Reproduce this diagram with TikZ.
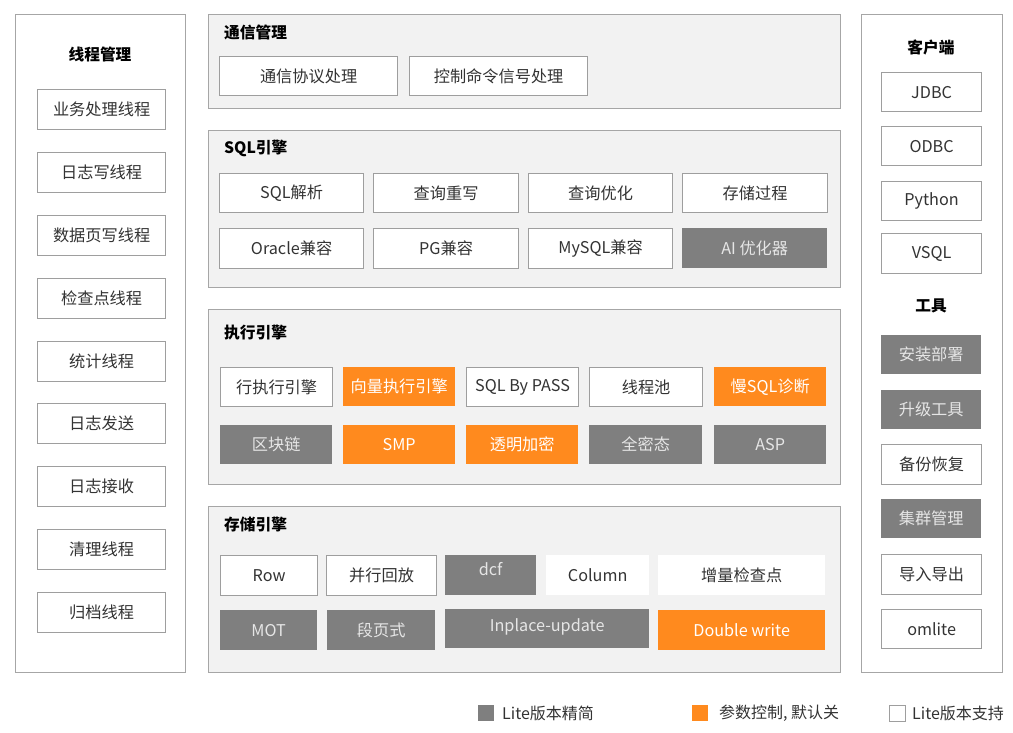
\documentclass[tikz,border=0pt]{standalone}
\usepackage{fontspec}
\setmainfont{Noto Sans CJK SC}
\definecolor{pfill}{HTML}{F2F2F2}
\definecolor{pdraw}{HTML}{A6A6A6}
\definecolor{bdraw}{HTML}{9E9E9E}
\definecolor{gfill}{HTML}{7F7F7F}
\definecolor{gtext}{HTML}{E6E6E6}
\definecolor{ofill}{HTML}{FF8A1E}
\definecolor{ttext}{HTML}{333333}
\tikzset{
  panel/.style={draw=pdraw, fill=pfill, line width=1.3pt, anchor=north west, inner sep=0pt},
  sidepanel/.style={draw=pdraw, fill=white, line width=1.3pt, anchor=north west, inner sep=0pt},
  bx/.style={anchor=north west, inner sep=0pt, font=\fontsize{16.2}{19}\selectfont, text=ttext},
  wbox/.style={bx, draw=bdraw, fill=white, line width=1.2pt},
  nbox/.style={bx, fill=white},
  gbox/.style={bx, fill=gfill, text=gtext},
  obox/.style={bx, fill=ofill, text=white},
  ttl/.style={font=\fontsize{15.7}{18}\selectfont\bfseries, text=black, inner sep=0pt},
  lg/.style={font=\fontsize{16}{19}\selectfont, text=ttext, inner sep=0pt, anchor=west},
}
\begin{document}
\begin{tikzpicture}[x=1pt,y=-1pt]
\useasboundingbox (0,0) rectangle (1013,733);
% left panel
\node[sidepanel, minimum width=170pt, minimum height=658pt] (left) at (15,14) {};
\node[ttl] (lt) at (100,54) {线程管理};
\node[wbox, minimum width=128pt, minimum height=40pt] (l1) at (37,89) {业务处理线程};
\node[wbox, minimum width=128pt, minimum height=40pt] (l2) at (37,152) {日志写线程};
\node[wbox, minimum width=128pt, minimum height=40pt] (l3) at (37,215) {数据页写线程};
\node[wbox, minimum width=128pt, minimum height=40pt] (l4) at (37,278) {检查点线程};
\node[wbox, minimum width=128pt, minimum height=40pt] (l5) at (37,341) {统计线程};
\node[wbox, minimum width=128pt, minimum height=40pt] (l6) at (37,403) {日志发送};
\node[wbox, minimum width=128pt, minimum height=40pt] (l7) at (37,466) {日志接收};
\node[wbox, minimum width=128pt, minimum height=40pt] (l8) at (37,529) {清理线程};
\node[wbox, minimum width=128pt, minimum height=40pt] (l9) at (37,592) {归档线程};
% 通信管理
\node[panel, minimum width=632pt, minimum height=94pt] (p1) at (208,14) {};
\node[ttl, anchor=west] (p1t) at (224,32) {通信管理};
\node[wbox, minimum width=178pt, minimum height=39pt] (c1) at (219,56) {通信协议处理};
\node[wbox, minimum width=178pt, minimum height=39pt] (c2) at (409,56) {控制命令信号处理};
% SQL引擎
\node[panel, minimum width=632pt, minimum height=157pt] (p2) at (208,130) {};
\node[ttl, anchor=west] (p2t) at (224,148) {SQL引擎};
\node[wbox, minimum width=144pt, minimum height=39pt] (s1) at (219,173) {SQL解析};
\node[wbox, minimum width=145pt, minimum height=39pt] (s2) at (373,173) {查询重写};
\node[wbox, minimum width=144pt, minimum height=39pt] (s3) at (528,173) {查询优化};
\node[wbox, minimum width=145pt, minimum height=39pt] (s4) at (682,173) {存储过程};
\node[wbox, minimum width=144pt, minimum height=40pt] (s5) at (219,228) {Oracle兼容};
\node[wbox, minimum width=145pt, minimum height=40pt] (s6) at (373,228) {PG兼容};
\node[wbox, minimum width=144pt, minimum height=40pt] (s7) at (528,228) {MySQL兼容};
\node[gbox, minimum width=145pt, minimum height=40pt] (s8) at (682,228) {AI 优化器};
% 执行引擎
\node[panel, minimum width=632pt, minimum height=175pt] (p3) at (208,309) {};
\node[ttl, anchor=west] (p3t) at (224,333) {执行引擎};
\node[wbox, minimum width=112pt, minimum height=39pt] (e1) at (220,367) {行执行引擎};
\node[obox, minimum width=112pt, minimum height=39pt] (e2) at (343,367) {向量执行引擎};
\node[wbox, minimum width=112pt, minimum height=39pt] (e3) at (466,367) {SQL By PASS};
\node[wbox, minimum width=113pt, minimum height=39pt] (e4) at (589,367) {线程池};
\node[obox, minimum width=112pt, minimum height=39pt] (e5) at (714,367) {慢SQL诊断};
\node[gbox, minimum width=112pt, minimum height=39pt] (e6) at (220,425) {区块链};
\node[obox, minimum width=112pt, minimum height=39pt] (e7) at (343,425) {SMP};
\node[obox, minimum width=112pt, minimum height=39pt] (e8) at (466,425) {透明加密};
\node[gbox, minimum width=113pt, minimum height=39pt] (e9) at (589,425) {全密态};
\node[gbox, minimum width=112pt, minimum height=39pt] (e10) at (714,425) {ASP};
% 存储引擎
\node[panel, minimum width=632pt, minimum height=166pt] (p4) at (208,506) {};
\node[ttl, anchor=west] (p4t) at (224,524) {存储引擎};
\node[wbox, minimum width=97pt, minimum height=40pt] (r1) at (220,555) {Row};
\node[wbox, minimum width=110pt, minimum height=40pt] (r2) at (326,555) {并行回放};
\node[gbox, minimum width=91pt, minimum height=40pt, text depth=8pt, text height=8pt] (r3) at (445,555) {dcf};
\node[nbox, minimum width=103pt, minimum height=40pt] (r4) at (546,555) {Column};
\node[nbox, minimum width=167pt, minimum height=40pt] (r5) at (658,555) {增量检查点};
\node[gbox, minimum width=97pt, minimum height=40pt] (r6) at (220,610) {MOT};
\node[gbox, minimum width=108pt, minimum height=40pt] (r7) at (327,610) {段页式};
\node[gbox, minimum width=204pt, minimum height=39pt, text depth=6pt, text height=12pt] (r8) at (445,609) {Inplace-update};
\node[obox, minimum width=167pt, minimum height=40pt] (r9) at (658,610) {Double write};
% right panel
\node[sidepanel, minimum width=141pt, minimum height=658pt] (right) at (861,14) {};
\node[ttl] (rt1) at (931,47) {客户端};
\node[wbox, minimum width=100pt, minimum height=39pt] (k1) at (881,72) {JDBC};
\node[wbox, minimum width=100pt, minimum height=39pt] (k2) at (881,126) {ODBC};
\node[wbox, minimum width=100pt, minimum height=39pt] (k3) at (881,181) {Python};
\node[wbox, minimum width=100pt, minimum height=40pt] (k4) at (881,233) {VSQL};
\node[ttl] (rt2) at (931,306) {工具};
\node[gbox, minimum width=100pt, minimum height=39pt] (t1) at (881,335) {安装部署};
\node[gbox, minimum width=100pt, minimum height=39pt] (t2) at (881,390) {升级工具};
\node[wbox, minimum width=100pt, minimum height=40pt] (t3) at (881,444) {备份恢复};
\node[gbox, minimum width=100pt, minimum height=39pt] (t4) at (881,499) {集群管理};
\node[wbox, minimum width=100pt, minimum height=40pt] (t5) at (881,554) {导入导出};
\node[wbox, minimum width=100pt, minimum height=39pt] (t6) at (881,609) {omlite};
% legend
\node[fill=gfill, minimum size=16pt, inner sep=0pt, anchor=north west] (lg1) at (478,705) {};
\node[lg] (lg1t) at (502,713) {Lite版本精简};
\node[fill=ofill, minimum size=16pt, inner sep=0pt, anchor=north west] (lg2) at (692,705) {};
\node[lg] (lg2t) at (719,713) {参数控制, 默认关};
\node[draw=bdraw, fill=white, line width=1.2pt, minimum size=16pt, inner sep=0pt, anchor=north west] (lg3) at (889,705) {};
\node[lg] (lg3t) at (912,713) {Lite版本支持};
\end{tikzpicture}
\end{document}
